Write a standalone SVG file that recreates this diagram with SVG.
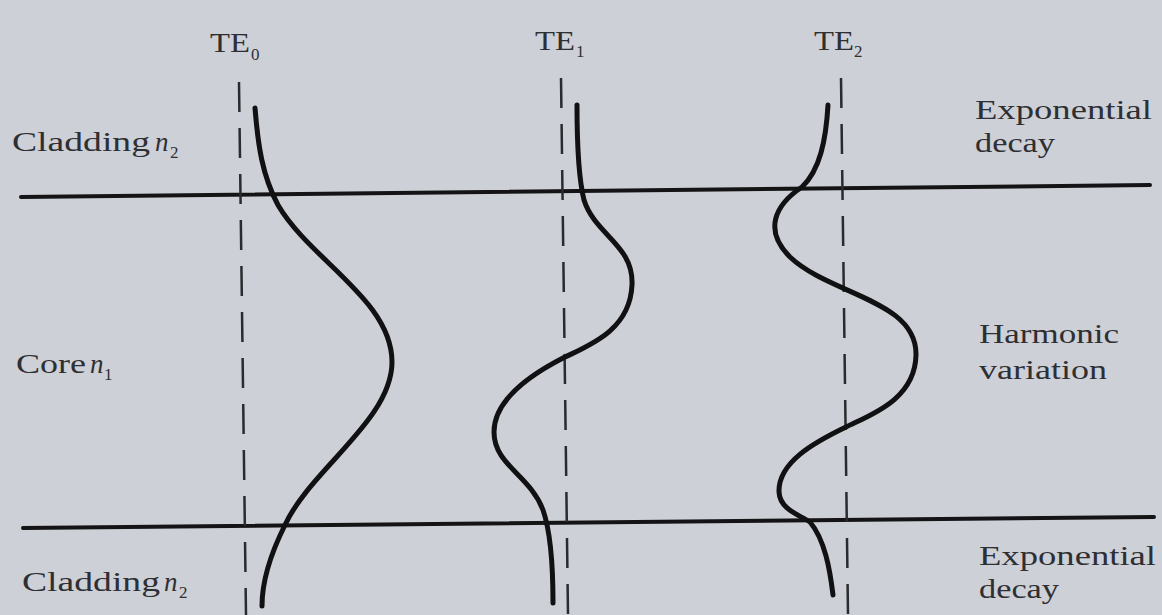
<svg xmlns="http://www.w3.org/2000/svg" width="1162" height="615" viewBox="0 0 1162 615">
<style>
.t{font-family:"Liberation Serif","DejaVu Serif",serif;fill:#2e2f33;font-size:27px}
.s{font-size:17px}
.i{font-style:italic}
.bound{stroke:#141416;stroke-width:4;fill:none;stroke-linecap:round}
.axis{stroke:#2a2b2e;stroke-width:2.5;fill:none;stroke-dasharray:30 16}
.mode{stroke:#111113;stroke-width:5;fill:none;stroke-linecap:round}
</style>
<rect width="1162" height="615" fill="#cdd0d6"/>
<g id="boundaries">
<line class="bound" x1="21" y1="197" x2="1150" y2="185"/>
<line class="bound" x1="23" y1="528" x2="1154" y2="517"/>
</g>
<g id="axes">
<line class="axis" x1="239" y1="82" x2="246" y2="615"/>
<line class="axis" x1="561" y1="78" x2="568" y2="615"/>
<line class="axis" x1="841" y1="78" x2="848" y2="615"/>
</g>
<g id="connectors">
<path id="TE0-curve" class="mode" d="M255,108 C258,145 262,175 278,205 C310,260 392,300 392,362 C392,420 310,470 285,525 C270,555 262,580 262,606"/>
<path id="TE1-curve" class="mode" d="M577,105 C577,150 579,180 584,200 C595,235 634,245 632,285 C630,330 590,345 563,358 C530,375 494,400 494,432 C494,465 530,475 543,510 C550,530 553,560 553,603"/>
<path id="TE2-curve" class="mode" d="M828,105 C826,140 820,170 802,187 C775,205 763,230 790,257 C830,295 917,300 916,355 C915,400 870,415 846,427 C815,442 778,462 779,492 C780,510 800,515 810,522 C825,540 830,570 833,595"/>
</g>
<g id="TE0"><text class="t" x="210" y="52" textLength="40" lengthAdjust="spacingAndGlyphs">TE</text><text class="t s" x="251" y="60">0</text></g>
<g id="TE1"><text class="t" x="535" y="50" textLength="40" lengthAdjust="spacingAndGlyphs">TE</text><text class="t s" x="576" y="57">1</text></g>
<g id="TE2"><text class="t" x="814" y="50" textLength="40" lengthAdjust="spacingAndGlyphs">TE</text><text class="t s" x="854" y="57">2</text></g>
<g id="cladding-top"><text class="t" x="12" y="151" textLength="138" lengthAdjust="spacingAndGlyphs">Cladding</text><text class="t i" x="155" y="151">n</text><text class="t s" x="170" y="158">2</text></g>
<g id="core"><text class="t" x="16" y="373" textLength="70" lengthAdjust="spacingAndGlyphs">Core</text><text class="t i" x="90" y="373">n</text><text class="t s" x="104" y="380">1</text></g>
<g id="cladding-bottom"><text class="t" x="22" y="591" textLength="138" lengthAdjust="spacingAndGlyphs">Cladding</text><text class="t i" x="164" y="591">n</text><text class="t s" x="179" y="598">2</text></g>
<g id="decay-top"><text class="t" x="975" y="119" textLength="177" lengthAdjust="spacingAndGlyphs">Exponential</text><text class="t" x="975" y="152" textLength="80" lengthAdjust="spacingAndGlyphs">decay</text></g>
<g id="harmonic"><text class="t" x="979" y="343" textLength="140" lengthAdjust="spacingAndGlyphs">Harmonic</text><text class="t" x="979" y="379" textLength="128" lengthAdjust="spacingAndGlyphs">variation</text></g>
<g id="decay-bottom"><text class="t" x="979" y="565" textLength="177" lengthAdjust="spacingAndGlyphs">Exponential</text><text class="t" x="979" y="598" textLength="80" lengthAdjust="spacingAndGlyphs">decay</text></g>
</svg>
